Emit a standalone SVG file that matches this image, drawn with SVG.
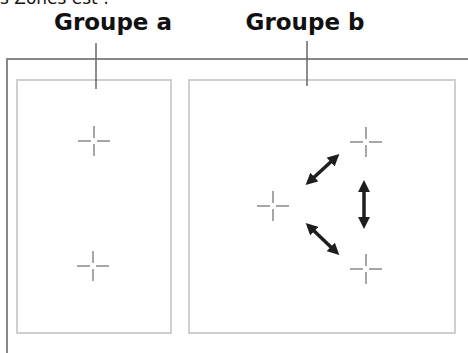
<svg xmlns="http://www.w3.org/2000/svg" width="468" height="353" viewBox="0 0 468 353">
<defs>
<marker id="ah" viewBox="0 0 10 10" refX="5" refY="5" markerWidth="3.4" markerHeight="3.4" orient="auto-start-reverse" markerUnits="strokeWidth">
<path d="M0,0 L10,5 L0,10 z" fill="#1e1e1e"/>
</marker>
<g id="cross">
<path d="M-16,0 H-3 M3,0 H16 M0,-15 V-3 M0,3 V15" stroke="#a6a6a6" stroke-width="2" fill="none"/>
</g>
</defs>
<style>
.title{font-family:"DejaVu Sans",Verdana,sans-serif;font-weight:bold;font-size:23px;fill:#111}
.top{font-family:"DejaVu Sans",Verdana,sans-serif;font-size:17px;fill:#111}
.frame{stroke:#888;stroke-width:2;fill:none}
.box{stroke:#cfcfcf;stroke-width:2;fill:#fff}
.tick{stroke:#666;stroke-width:1.5}
.arr{stroke:#1e1e1e;stroke-width:3.5;fill:none;marker-start:url(#ah);marker-end:url(#ah)}
</style>
<rect width="468" height="353" fill="#fff"/>
<text class="top" x="0" y="4">s Zones est :</text>
<path class="frame" d="M7,353 V59 H468"/>
<g id="groupe-a">
<rect class="box" x="17" y="80" width="154" height="253"/>
<use href="#cross" x="94" y="141"/>
<use href="#cross" x="93" y="266"/>
</g>
<g id="groupe-b">
<rect class="box" x="189" y="80" width="266" height="253"/>
<use href="#cross" x="366" y="142"/>
<use href="#cross" x="273" y="206"/>
<use href="#cross" x="366" y="269"/>
</g>
<g id="label-a">
<text class="title" x="113" y="30" text-anchor="middle">Groupe a</text>
<line class="tick" x1="96" y1="43" x2="96" y2="89"/>
</g>
<g id="label-b">
<text class="title" x="305" y="30" text-anchor="middle">Groupe b</text>
<line class="tick" x1="307" y1="41" x2="307" y2="86"/>
</g>
<g id="connectors">
<line class="arr" x1="310" y1="181" x2="335" y2="158"/>
<line class="arr" x1="364" y1="186" x2="364" y2="223"/>
<line class="arr" x1="310" y1="227" x2="335" y2="251"/>
</g>
</svg>
